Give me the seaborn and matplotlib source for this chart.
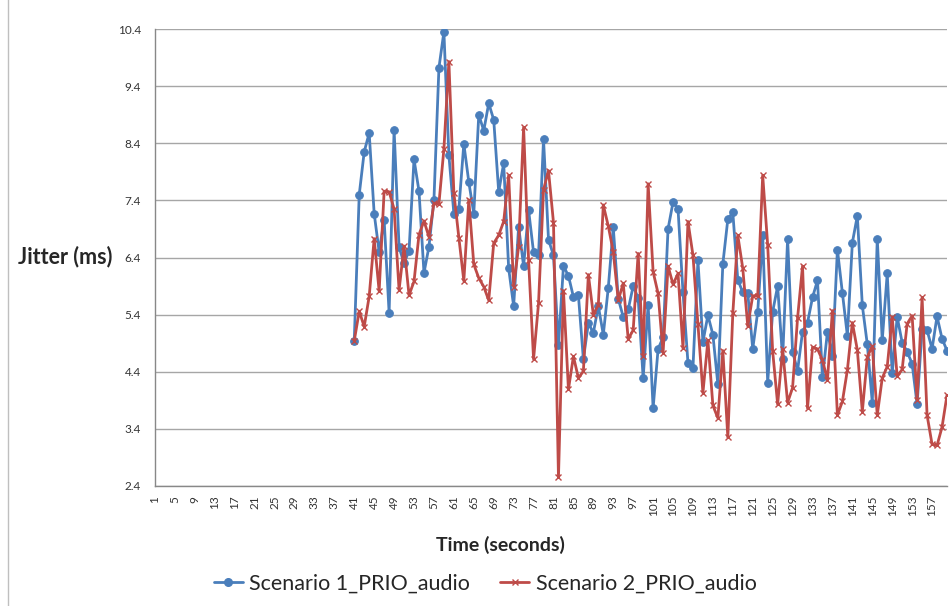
import numpy as np
import pandas as pd
import matplotlib
matplotlib.use("Agg")
import matplotlib.pyplot as plt
from matplotlib.lines import Line2D
from matplotlib.patches import Rectangle
import seaborn as sns

# ---- data ----
categories = list(range(1, 161))
time_start = 41
scenario1 = [4.94, 7.50, 8.25, 8.58, 7.17, 6.50, 7.06, 5.43, 8.64, 6.58,
             6.30, 6.52, 8.12, 7.56, 6.13, 6.59, 7.41, 9.72, 10.35, 8.19,
             7.17, 7.25, 8.39, 7.72, 7.17, 8.90, 8.62, 9.10, 8.81, 7.55,
             8.05, 6.21, 5.55, 6.94, 6.25, 7.23, 6.49, 6.45, 8.47, 6.71,
             6.44, 4.87, 6.25, 6.08, 5.71, 5.74, 4.62, 5.25, 5.08, 5.55,
             5.05, 5.87, 6.93, 5.68, 5.36, 5.49, 5.90, 5.69, 4.29, 5.57,
             3.76, 4.80, 5.00, 6.90, 7.37, 7.25, 5.79, 4.55, 4.47, 6.35,
             4.92, 5.39, 5.05, 4.18, 6.29, 7.07, 7.19, 6.01, 5.79, 5.78,
             4.80, 5.45, 6.79, 4.21, 5.45, 5.90, 4.63, 6.72, 4.75, 4.42,
             5.10, 5.26, 5.70, 6.00, 4.30, 5.10, 4.68, 6.54, 5.78, 5.03,
             6.66, 7.13, 5.56, 4.88, 3.86, 6.73, 4.95, 6.12, 4.37, 5.36,
             4.91, 4.75, 4.54, 3.83, 5.15, 5.13, 4.80, 5.37, 4.98, 4.77]
scenario2 = [4.94, 5.46, 5.19, 5.72, 6.73, 5.81, 7.56, 7.55, 7.25, 5.83,
             6.60, 5.74, 5.98, 6.80, 7.04, 6.76, 7.35, 7.34, 8.30, 9.83,
             7.53, 6.75, 5.99, 7.41, 6.28, 6.04, 5.89, 5.65, 6.65, 6.79,
             7.03, 7.84, 5.89, 6.59, 8.68, 6.35, 4.62, 5.60, 7.59, 7.92,
             7.01, 2.55, 5.82, 4.09, 4.67, 4.29, 4.41, 6.10, 5.40, 5.57,
             7.32, 6.95, 6.50, 5.65, 5.95, 4.97, 5.13, 6.47, 4.68, 7.69,
             6.15, 5.77, 4.73, 6.25, 5.93, 6.12, 4.81, 7.03, 6.44, 5.23,
             4.03, 4.95, 3.81, 3.59, 4.77, 3.25, 5.42, 6.79, 6.21, 5.20,
             5.73, 5.73, 7.84, 6.62, 4.76, 3.83, 4.79, 3.86, 4.12, 5.34,
             6.25, 3.76, 4.83, 4.80, 4.60, 4.26, 5.47, 3.64, 3.88, 4.43,
             5.26, 4.78, 3.70, 4.66, 4.85, 3.64, 4.29, 4.49, 5.36, 4.32,
             4.44, 5.24, 5.38, 3.90, 5.70, 3.64, 3.13, 3.11, 3.43, 3.99]
series_names = ["Scenario 1_PRIO_audio", "Scenario 2_PRIO_audio"]
y_ticks = [2.4, 3.4, 4.4, 5.4, 6.4, 7.4, 8.4, 9.4, 10.4]
x_tick_labels = list(range(1, 161, 4))

blue = "#4A7EBB"
red = "#BE4B48"

time = list(range(time_start, time_start + len(scenario1)))
df = pd.DataFrame({
    "Time": time * 2,
    "Jitter": scenario1 + scenario2,
    "Series": [series_names[0]] * len(scenario1) + [series_names[1]] * len(scenario2),
})

sns.set_style("white")
plt.rcParams["font.family"] = ["Lato", "DejaVu Sans"]

fig = plt.figure(figsize=(9.5, 6.06), dpi=100)
ax = fig.add_axes([155 / 950, 1 - 486 / 606, (947 - 155) / 950, (486 - 29) / 606])

sns.lineplot(data=df[df.Series == series_names[0]], x="Time", y="Jitter", ax=ax,
             color=blue, linewidth=2.0, marker="o", markersize=5.5,
             markeredgecolor=blue, markerfacecolor=blue, legend=False, zorder=3)
sns.lineplot(data=df[df.Series == series_names[1]], x="Time", y="Jitter", ax=ax,
             color=red, linewidth=2.0, marker="x", markersize=4.5,
             markeredgecolor=red, markeredgewidth=1.0, legend=False, zorder=4)

ax.set_xlim(1, 160)
ax.set_ylim(2.4, 10.4)
ax.set_yticks(y_ticks)
ax.set_yticklabels([f"{v:.1f}" for v in y_ticks], fontsize=8.5, color="#333333")
ax.set_xticks(categories, minor=True)
ax.set_xticks(x_tick_labels)
ax.set_xticklabels([str(v) for v in x_tick_labels], rotation=90, fontsize=8.5, color="#333333")
ax.tick_params(axis="x", which="both", direction="out", length=3, width=0.6, color="#888888", pad=4)
ax.tick_params(axis="y", which="major", direction="out", length=4, width=0.6, color="#888888", pad=6)
ax.grid(axis="y", color="#A6A6A6", linewidth=1.0)
ax.set_axisbelow(True)
for s in ["top", "right"]:
    ax.spines[s].set_visible(False)
for s in ["left", "bottom"]:
    ax.spines[s].set_color("#888888")
    ax.spines[s].set_linewidth(1.0)
ax.set_xlabel("")
ax.set_ylabel("")

fig.text(18 / 950, 1 - 257 / 606, "Jitter (ms)", fontsize=15.5, fontweight="bold",
         ha="left", va="center")
fig.text(500 / 950, 1 - 545 / 606, "Time (seconds)", fontsize=14, fontweight="bold",
         ha="center", va="center")

handles = [
    Line2D([0], [0], color=blue, linewidth=2.0, marker="o", markersize=5.5),
    Line2D([0], [0], color=red, linewidth=2.0, marker="x", markersize=4.5, markeredgewidth=1.0),
]
fig.legend(handles, series_names, loc="center", bbox_to_anchor=(485 / 950, 1 - 584 / 606),
           ncol=2, frameon=False, fontsize=15.5, handlelength=1.35, columnspacing=1.4,
           handletextpad=0.3)

fig.patches.append(Rectangle((8 / 950, -0.01), 1.0, 1.05, transform=fig.transFigure,
                             fill=False, edgecolor="#BFBFBF", linewidth=1.0))

fig.savefig("out.png", dpi=100)
